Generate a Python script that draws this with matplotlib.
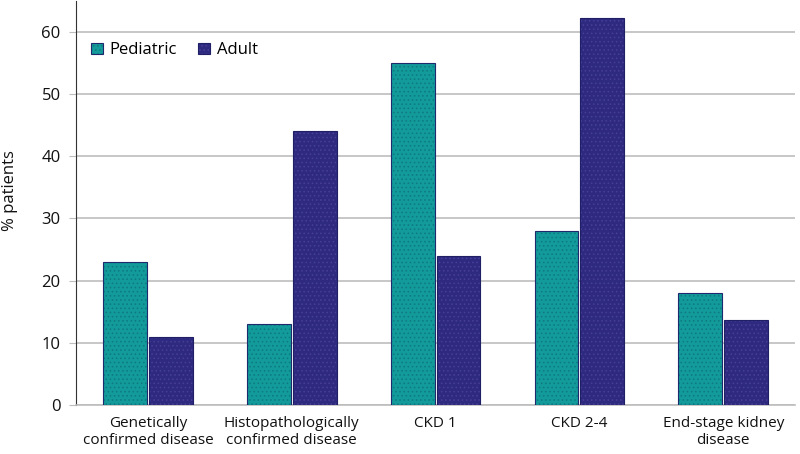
import matplotlib
matplotlib.use("Agg")
import matplotlib.pyplot as plt
import numpy as np

categories = ["Genetically\nconfirmed disease", "Histopathologically\nconfirmed disease",
              "CKD 1", "CKD 2-4", "End-stage kidney\ndisease"]
pediatric = [23, 13, 55, 28, 18]
adult = [11, 44, 24, 62.3, 13.7]
yticks = [0, 10, 20, 30, 40, 50, 60]

plt.rcParams['font.family'] = ['Open Sans', 'DejaVu Sans']
plt.rcParams['hatch.linewidth'] = 0.6

fig = plt.figure(figsize=(8, 4.54), dpi=100)
ax = fig.add_axes([0.095, 0.108, 0.899, 0.89])

x = np.arange(len(categories))
w = 0.305
gap = 0.007
b1 = ax.bar(x - w/2 - gap, pediatric, w, color='#139a9a', edgecolor='#1f2a6e', linewidth=0.8,
            hatch='....', label='Pediatric', zorder=3)
b2 = ax.bar(x + w/2 + gap, adult, w, color='#2e2a80', edgecolor='#1f1f66', linewidth=0.8,
            hatch='....', label='Adult', zorder=3)
for b in b1:
    b._hatch_color = matplotlib.colors.to_rgba('#0d7a7e')
for b in b2:
    b._hatch_color = matplotlib.colors.to_rgba('#4a3f98')

ax.set_xlim(-0.5, len(categories) - 0.5)
ax.set_ylim(0, 65)
ax.set_yticks(yticks)
ax.yaxis.grid(True, color='#bdbdbd', linewidth=1.2, zorder=0)
ax.set_axisbelow(True)
for s in ['top', 'right']:
    ax.spines[s].set_visible(False)
ax.spines['bottom'].set_color('#bdbdbd')
ax.spines['bottom'].set_linewidth(1.2)
ax.spines['left'].set_color('#333333')
ax.spines['left'].set_linewidth(0.8)
ax.tick_params(axis='y', length=5, color='#bdbdbd', labelsize=12, pad=6, labelcolor='#111111')
ax.tick_params(axis='x', length=0, labelsize=11, pad=8, labelcolor='#111111')
ax.set_xticks(x)
ax.set_xticklabels(categories, linespacing=1.15)
ax.set_ylabel('% patients', fontsize=12, labelpad=10, color='#111111')
ax.yaxis.set_label_coords(-0.08, 0.53)

leg = ax.legend(loc='upper left', bbox_to_anchor=(0.0, 0.935), ncol=2, frameon=False,
                fontsize=12, handlelength=0.7, handleheight=0.7, handletextpad=0.4,
                columnspacing=1.3)

fig.savefig('out.png', dpi=100)
